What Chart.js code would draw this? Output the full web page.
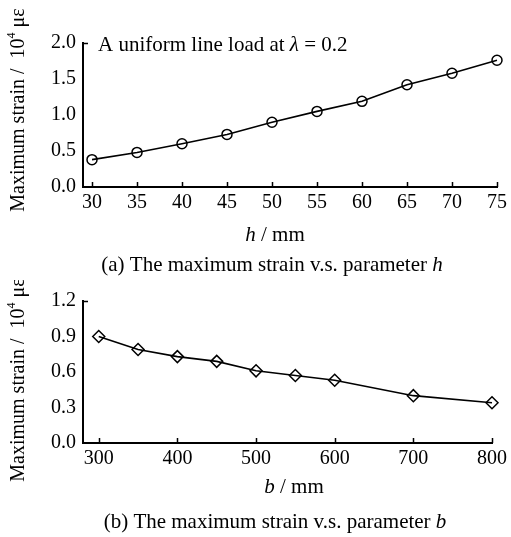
<!DOCTYPE html>
<html>
<head>
<meta charset="utf-8">
<script src="https://cdn.jsdelivr.net/npm/chart.js@4"></script>
<style>
  html, body { margin: 0; padding: 0; background: #fff; }
  body { width: 511px; height: 537px; position: relative; overflow: hidden; }
  .wrap { position: absolute; left: 0; width: 511px; }
  canvas { display: block; }
</style>
</head>
<body>
<div class="wrap" id="w1" style="top:0px;height:280px;"><canvas id="c1"></canvas></div>
<div class="wrap" id="w2" style="top:280px;height:257px;"><canvas id="c2"></canvas></div>
<script>
// ---- data ----
const hValues = [30, 35, 40, 45, 50, 55, 60, 65, 70, 75];
const strainH = [0.38, 0.48, 0.60, 0.73, 0.90, 1.05, 1.19, 1.42, 1.58, 1.76];
const hTicks = [30, 35, 40, 45, 50, 55, 60, 65, 70, 75];
const strainHTicks = [0.0, 0.5, 1.0, 1.5, 2.0];

const bValues = [300, 350, 400, 450, 500, 550, 600, 700, 800];
const strainB = [0.90, 0.79, 0.73, 0.69, 0.61, 0.57, 0.53, 0.40, 0.34];
const bTicks = [300, 400, 500, 600, 700, 800];
const strainBTicks = [0.0, 0.3, 0.6, 0.9, 1.2];

const FONT = '"Liberation Serif", "Times New Roman", serif';

function drawRich(ctx, parts, x, y, align) {
  let total = 0;
  const widths = parts.map(p => {
    ctx.font = (p.italic ? 'italic ' : '') + (p.size || 21) + 'px ' + FONT;
    const w = ctx.measureText(p.t).width;
    total += w;
    return w;
  });
  let cx = align === 'left' ? x : x - total / 2;
  ctx.textBaseline = 'alphabetic';
  ctx.textAlign = 'left';
  ctx.fillStyle = '#000';
  parts.forEach((p, i) => {
    ctx.font = (p.italic ? 'italic ' : '') + (p.size || 21) + 'px ' + FONT;
    ctx.fillText(p.t, cx, y + (p.dy || 0));
    cx += widths[i];
  });
}

function makeChart(canvasId, wrapTop, wrapH, xs, ys, xTicks, yTicks, xMin, xMax, yMax,
                   area, marker, texts) {
  const canvas = document.getElementById(canvasId);
  canvas.width = 511; canvas.height = wrapH;
  canvas.style.width = '511px'; canvas.style.height = wrapH + 'px';

  const innerTicks = {
    id: 'innerTicks',
    afterDraw(chart) {
      const ctx = chart.ctx;
      const ca = chart.chartArea;
      const sx = chart.scales.x, sy = chart.scales.y;
      ctx.save();
      ctx.strokeStyle = '#000';
      ctx.lineWidth = 1.5;
      ctx.beginPath();
      xTicks.forEach(v => {
        const px = Math.round(sx.getPixelForValue(v)) + 0.5;
        ctx.moveTo(px, ca.bottom);
        ctx.lineTo(px, ca.bottom - 5);
      });
      const ty = Math.round(sy.getPixelForValue(yMax)) + 0.5;
      ctx.moveTo(ca.left, ty);
      ctx.lineTo(ca.left + 5, ty);
      ctx.stroke();
      texts.forEach(t => {
        if (t.rotate) {
          ctx.save();
          ctx.translate(t.x, t.y - wrapTop);
          ctx.rotate(-Math.PI / 2);
          drawRich(ctx, t.parts, 0, 0, 'center');
          ctx.restore();
        } else {
          drawRich(ctx, t.parts, t.x, t.y - wrapTop, t.align || 'center');
        }
      });
      ctx.restore();
    }
  };

  return new Chart(canvas, {
    type: 'scatter',
    data: {
      datasets: [{
        data: xs.map((x, i) => ({ x: x, y: ys[i] })),
        showLine: true,
        borderColor: '#000',
        borderWidth: 1.6,
        pointStyle: marker.style,
        pointRadius: marker.r,
        pointBorderWidth: 1.5,
        pointBorderColor: '#000',
        pointBackgroundColor: 'rgba(255,255,255,0)',
        clip: false
      }]
    },
    options: {
      responsive: false,
      animation: false,
      devicePixelRatio: 1,
      layout: { padding: { top: area.top - wrapTop, right: 511 - area.right, left: 0, bottom: 0 } },
      plugins: { legend: { display: false }, tooltip: { enabled: false } },
      scales: {
        x: {
          type: 'linear', min: xMin, max: xMax,
          afterBuildTicks: s => { s.ticks = xTicks.map(v => ({ value: v })); },
          afterFit: s => { s.height = wrapTop + wrapH - area.bottom; },
          grid: { display: true, drawOnChartArea: false, drawTicks: false },
          border: { display: true, color: '#000', width: 2 },
          ticks: { color: '#000', padding: 4, maxRotation: 0, autoSkip: false,
                   font: { family: FONT, size: 20 } }
        },
        y: {
          type: 'linear', min: 0, max: yMax,
          afterBuildTicks: s => { s.ticks = yTicks.map(v => ({ value: v })); },
          afterFit: s => { s.width = area.left; },
          grid: { display: true, drawOnChartArea: false, drawTicks: false },
          border: { display: true, color: '#000', width: 2 },
          ticks: { color: '#000', padding: 7, autoSkip: false,
                   font: { family: FONT, size: 20 },
                   callback: v => Number(v).toFixed(1) }
        }
      }
    },
    plugins: [innerTicks]
  });
}

const yTitleParts = [
  { t: 'Maximum strain /  10', size: 20 }, { t: '4', size: 12, dy: -9 }, { t: ' με', size: 20 }
];

makeChart('c1', 0, 280, hValues, strainH, hTicks, strainHTicks, 29, 75, 2.0,
  { left: 83, right: 501, top: 43, bottom: 187 },
  { style: 'circle', r: 5 },
  [
    { parts: [{ t: 'A uniform line load at ' }, { t: 'λ', italic: true }, { t: ' = 0.2' }], x: 98, y: 51, align: 'left' },
    { parts: [{ t: 'h', italic: true }, { t: ' / mm' }], x: 275, y: 241 },
    { parts: [{ t: '(a) The maximum strain v.s. parameter ' }, { t: 'h', italic: true }], x: 272, y: 271 },
    { parts: yTitleParts, rotate: true, x: 24, y: 110 }
  ]);

makeChart('c2', 280, 257, bValues, strainB, bTicks, strainBTicks, 280, 800, 1.2,
  { left: 83, right: 494, top: 301, bottom: 443 },
  { style: 'rectRot', r: 6 },
  [
    { parts: [{ t: 'b', italic: true }, { t: ' / mm' }], x: 294, y: 493 },
    { parts: [{ t: '(b) The maximum strain v.s. parameter ' }, { t: 'b', italic: true }], x: 275, y: 528 },
    { parts: yTitleParts, rotate: true, x: 24, y: 380 }
  ]);
</script>
</body>
</html>
